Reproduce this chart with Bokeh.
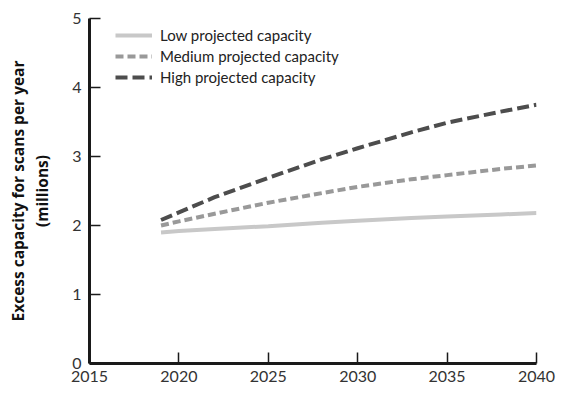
from bokeh.plotting import figure
from bokeh.models import FixedTicker, Range1d, Legend, LegendItem
from bokeh.embed import file_html
from bokeh.resources import INLINE

years = [2019, 2020, 2022, 2025, 2028, 2030, 2033, 2035, 2038, 2040]
low = [1.90, 1.92, 1.95, 1.99, 2.04, 2.07, 2.11, 2.13, 2.16, 2.18]
medium = [2.00, 2.06, 2.17, 2.33, 2.47, 2.56, 2.67, 2.73, 2.82, 2.87]
high = [2.08, 2.19, 2.41, 2.69, 2.96, 3.12, 3.35, 3.49, 3.65, 3.75]

series_names = ["Low projected capacity", "Medium projected capacity", "High projected capacity"]
x_ticks = [2015, 2020, 2025, 2030, 2035, 2040]
y_ticks = [0, 1, 2, 3, 4, 5]

FONT = "Lato"

p = figure(width=560, height=392, output_backend="svg", toolbar_location=None,
           x_range=Range1d(2015, 2040), y_range=Range1d(0, 5),
           min_border_left=89, min_border_right=24, min_border_top=18, min_border_bottom=29)
p.outline_line_color = None
p.xgrid.grid_line_color = None
p.ygrid.grid_line_color = None

r_low = p.line(years, low, line_color="#c8c8c8", line_width=4)
r_med = p.line(years, medium, line_color="#999999", line_width=4, line_dash="8 4")
r_high = p.line(years, high, line_color="#4d4d4d", line_width=4, line_dash="12 5")

for ax in (p.xaxis[0], p.yaxis[0]):
    ax.axis_line_color = "#1a1a1a"
    ax.axis_line_width = 3
    ax.major_tick_in = 11
    ax.major_tick_out = 0
    ax.major_tick_line_color = "#1a1a1a"
    ax.major_tick_line_width = 1.5
    ax.minor_tick_line_color = None
    ax.major_label_text_font = FONT
    ax.major_label_text_font_size = "16px"
    ax.major_label_text_color = "#333333"

p.xaxis[0].ticker = FixedTicker(ticks=x_ticks)
p.yaxis[0].ticker = FixedTicker(ticks=y_ticks)
p.xaxis[0].major_label_standoff = 7
p.yaxis[0].major_label_standoff = 8

p.yaxis[0].axis_label = "Excess capacity for scans per year\n(millions)"
p.yaxis[0].axis_label_text_font = "Open Sans"
p.yaxis[0].axis_label_text_font_style = "bold"
p.yaxis[0].axis_label_text_font_size = "15.5px"
p.yaxis[0].axis_label_text_color = "#111111"
p.yaxis[0].axis_label_text_line_height = 1.1
p.yaxis[0].axis_label_standoff = 16

legend = Legend(items=[
    LegendItem(label=series_names[0], renderers=[r_low]),
    LegendItem(label=series_names[1], renderers=[r_med]),
    LegendItem(label=series_names[2], renderers=[r_high]),
], location=(26, 276))
legend.background_fill_alpha = 0
legend.border_line_color = None
legend.label_text_font = FONT
legend.label_text_font_size = "15px"
legend.label_text_color = "#222222"
legend.glyph_width = 37
legend.spacing = 1
legend.padding = 0
legend.margin = 0
legend.label_standoff = 8
legend.label_height = 20
legend.glyph_height = 20
p.add_layout(legend)

open("out.html", "w").write(file_html(p, INLINE))
